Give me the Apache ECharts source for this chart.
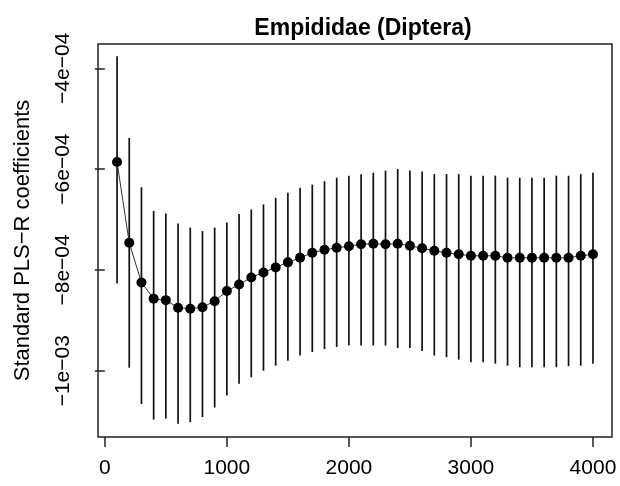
<!DOCTYPE html>
<html>
<head>
<meta charset="utf-8">
<script src="https://cdn.jsdelivr.net/npm/echarts@6/dist/echarts.min.js"></script>
<style>
html,body{margin:0;padding:0;background:#fff;}
#chart{width:620px;height:486px;}
</style>
</head>
<body>
<div id="chart"></div>
<script>
var titleText = 'Empididae (Diptera)';
var yName = 'Standard PLS\u2212R coefficients';
var xValues = [100,200,300,400,500,600,700,800,900,1000,1100,1200,1300,1400,1500,1600,1700,1800,1900,2000,
               2100,2200,2300,2400,2500,2600,2700,2800,2900,3000,3100,3200,3300,3400,3500,3600,3700,3800,3900,4000];
var meanValues = [-5.86e-4,-7.46e-4,-8.25e-4,-8.57e-4,-8.60e-4,-8.75e-4,-8.77e-4,-8.74e-4,-8.62e-4,-8.42e-4,
                  -8.29e-4,-8.15e-4,-8.05e-4,-7.95e-4,-7.85e-4,-7.76e-4,-7.66e-4,-7.60e-4,-7.56e-4,-7.53e-4,
                  -7.49e-4,-7.48e-4,-7.49e-4,-7.48e-4,-7.52e-4,-7.57e-4,-7.62e-4,-7.66e-4,-7.69e-4,-7.72e-4,
                  -7.72e-4,-7.72e-4,-7.76e-4,-7.76e-4,-7.76e-4,-7.76e-4,-7.76e-4,-7.76e-4,-7.72e-4,-7.69e-4];
var upperValues = [-3.76e-4,-5.38e-4,-6.36e-4,-6.83e-4,-6.88e-4,-7.08e-4,-7.16e-4,-7.23e-4,-7.16e-4,-7.06e-4,
                   -6.89e-4,-6.80e-4,-6.70e-4,-6.57e-4,-6.47e-4,-6.37e-4,-6.31e-4,-6.24e-4,-6.17e-4,-6.13e-4,
                   -6.10e-4,-6.07e-4,-6.03e-4,-6.00e-4,-6.03e-4,-6.05e-4,-6.10e-4,-6.10e-4,-6.10e-4,-6.13e-4,
                   -6.13e-4,-6.13e-4,-6.17e-4,-6.17e-4,-6.17e-4,-6.17e-4,-6.13e-4,-6.13e-4,-6.10e-4,-6.07e-4];
var lowerValues = [-8.27e-4,-9.94e-4,-10.66e-4,-10.97e-4,-10.95e-4,-11.05e-4,-11.02e-4,-10.92e-4,-10.73e-4,-10.49e-4,
                   -10.26e-4,-10.13e-4,-10.00e-4,-9.90e-4,-9.80e-4,-9.70e-4,-9.63e-4,-9.57e-4,-9.53e-4,-9.50e-4,
                   -9.50e-4,-9.50e-4,-9.50e-4,-9.55e-4,-9.55e-4,-9.61e-4,-9.70e-4,-9.73e-4,-9.78e-4,-9.83e-4,
                   -9.83e-4,-9.86e-4,-9.90e-4,-9.93e-4,-9.93e-4,-9.93e-4,-9.93e-4,-9.91e-4,-9.90e-4,-9.86e-4];
var xTickValues = [0,1000,2000,3000,4000];
var xTickLabels = ['0','1000','2000','3000','4000'];
var yTickValues = [-1e-3,-8e-4,-6e-4,-4e-4];
var yTickLabels = ['\u22121e\u221203','\u22128e\u221204','\u22126e\u221204','\u22124e\u221204'];

var FONT = '"Liberation Sans", Arial, Helvetica, sans-serif';
var pts = xValues.map(function(x,i){return [x, meanValues[i]];});
var bars = xValues.map(function(x,i){return [x, lowerValues[i], upperValues[i]];});

var chart = echarts.init(document.getElementById('chart'), null, {renderer:'canvas'});
chart.setOption({
  animation: false,
  backgroundColor: '#ffffff',
  title: {
    text: titleText,
    left: 358, textAlign: 'center', top: 12,
    textStyle: {fontFamily: FONT, fontSize: 23, fontWeight: 'bold', color: '#000'}
  },
  grid: {left: 98, right: 8, top: 44, bottom: 49, show: true, borderColor: '#222', borderWidth: 1.5,
         backgroundColor: 'transparent', outerBoundsMode: 'none', containLabel: false},
  xAxis: {
    type: 'value', min: -56, max: 4156,
    axisLine: {show: false},
    splitLine: {show: false},
    axisTick: {show: true, inside: false, length: 10, lineStyle: {color: '#222', width: 1.5}, customValues: xTickValues},
    axisLabel: {show: true, margin: 21, fontFamily: FONT, fontSize: 21, color: '#000', customValues: xTickValues,
                formatter: function(v){ var i = xTickValues.indexOf(v); return i>=0 ? xTickLabels[i] : ''; }}
  },
  yAxis: {
    type: 'value', min: -11.315e-4, max: -3.518e-4,
    name: yName, nameLocation: 'middle', nameRotate: 90, nameGap: 64,
    nameTextStyle: {fontFamily: FONT, fontSize: 22, color: '#000'},
    axisLine: {show: false},
    splitLine: {show: false},
    axisTick: {show: true, inside: false, length: 10, lineStyle: {color: '#222', width: 1.5}, customValues: yTickValues},
    axisLabel: {show: true, rotate: 90, margin: 24, fontFamily: FONT, fontSize: 21, color: '#000', customValues: yTickValues,
                formatter: function(v){
                  for (var i=0;i<yTickValues.length;i++){ if (Math.abs(yTickValues[i]-v) < 1e-7) return yTickLabels[i]; }
                  return '';
                }}
  },
  series: [
    {
      type: 'custom',
      data: bars,
      z: 2,
      renderItem: function(params, api){
        var top = api.coord([api.value(0), api.value(2)]);
        var bot = api.coord([api.value(0), api.value(1)]);
        return {type: 'line', shape: {x1: top[0], y1: top[1], x2: bot[0], y2: bot[1]},
                style: {stroke: '#111', lineWidth: 1.7}};
      },
      silent: true
    },
    {
      type: 'line',
      data: pts,
      z: 3,
      symbol: 'circle', symbolSize: 10,
      itemStyle: {color: '#000'},
      lineStyle: {color: '#333', width: 1},
      silent: true
    }
  ]
});
</script>
</body>
</html>
